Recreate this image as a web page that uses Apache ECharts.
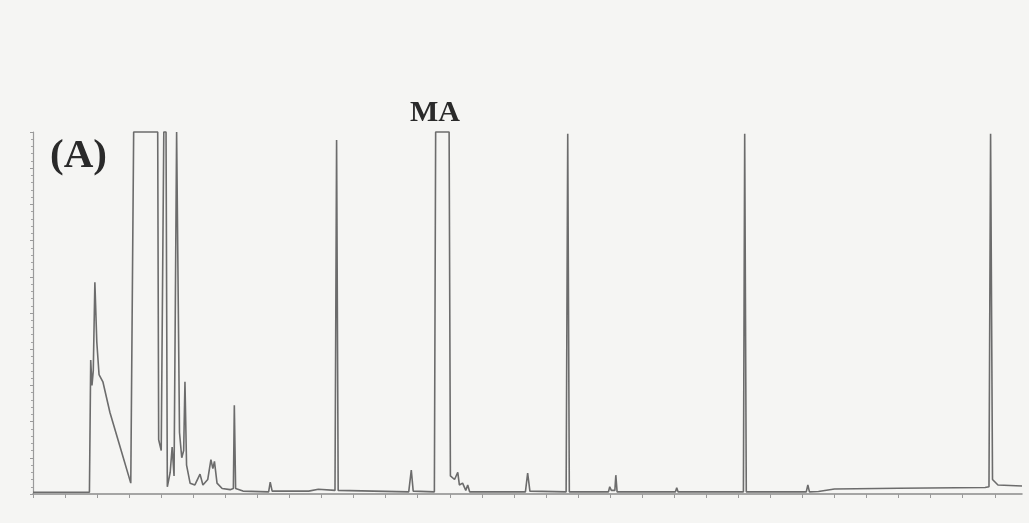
<!DOCTYPE html>
<html>
<head>
<meta charset="utf-8">
<script src="https://cdn.jsdelivr.net/npm/echarts@6/dist/echarts.min.js"></script>
<style>
  html, body { margin: 0; padding: 0; background: #f5f5f3; }
  #main { width: 1029px; height: 523px; }
</style>
</head>
<body>
<div id="main"></div>
<script>
// retention time (min) / relative response (%)
var times = [0.0, 1.76, 1.80, 1.84, 1.88, 1.93, 1.99, 2.06, 2.18, 2.40, 2.75, 3.05, 3.11, 3.14, 3.89, 3.92, 4.00, 4.08, 4.15, 4.19,
  4.28, 4.34, 4.40, 4.48, 4.53, 4.57, 4.64, 4.70, 4.74, 4.79, 4.90, 5.05, 5.21, 5.30, 5.45, 5.55, 5.61, 5.66, 5.74, 5.90,
  6.15, 6.25, 6.28, 6.32, 6.55, 7.35, 7.40, 7.46, 8.60, 8.90, 9.42, 9.47, 9.52, 11.72, 11.80, 11.86, 12.52, 12.56, 12.98, 13.02,
  13.15, 13.25, 13.30, 13.40, 13.50, 13.56, 13.62, 15.36, 15.43, 15.50, 16.63, 16.68, 16.73, 17.95, 17.99, 18.04, 18.15, 18.18, 18.22, 20.04,
  20.08, 20.12, 22.16, 22.20, 22.25, 24.12, 24.17, 24.22, 24.50, 25.00, 27.00, 29.70, 29.82, 29.87, 29.93, 30.10, 30.85];
var response = [0.5, 0.5, 37, 30, 34, 58.5, 42, 33, 31, 22.5, 12, 3, 3, 100, 100, 15, 12, 100, 100, 2,
  6, 13, 5, 100, 100, 17, 10, 12, 31, 8, 3, 2.5, 5.5, 2.5, 4, 9.5, 7, 9, 3, 1.5,
  1.2, 1.5, 24.5, 1.5, 0.8, 0.6, 3.3, 0.8, 0.8, 1.3, 1, 97.8, 1, 0.6, 6.6, 0.8, 0.6, 100, 100, 5,
  4, 6, 2.5, 3, 1, 2.5, 0.6, 0.6, 5.8, 0.8, 0.6, 99.5, 0.6, 0.6, 2, 1, 1, 5.2, 0.6, 0.6,
  1.7, 0.6, 0.6, 99.5, 0.6, 0.6, 2.5, 0.6, 0.7, 1.4, 1.6, 1.8, 2, 99.5, 4, 2.5, 2.2];
var xTicks = [0, 1, 2, 3, 4, 5, 6, 7, 8, 9, 10, 11, 12, 13, 14, 15, 16, 17, 18, 19, 20, 21, 22, 23, 24, 25, 26, 27, 28, 29, 30];

var trace = times.map(function (t, i) { return [t, response[i]]; });

var myChart = echarts.init(document.getElementById('main'));
myChart.setOption({
  backgroundColor: '#f5f5f3',
  animation: false,
  grid: { left: 33, right: 7, top: 132, bottom: 29 },
  xAxis: {
    type: 'value',
    min: 0,
    max: 30.85,
    axisLine: { lineStyle: { color: '#8a8a8a', width: 1.5 } },
    axisTick: { customValues: xTicks, length: 4, lineStyle: { color: '#9a9a9a' } },
    axisLabel: { show: false },
    splitLine: { show: false }
  },
  yAxis: {
    type: 'value',
    min: 0,
    max: 100,
    interval: 10,
    axisLine: { show: true, lineStyle: { color: '#9a9a9a', width: 1.2 } },
    axisTick: { show: true, length: 3, lineStyle: { color: '#9a9a9a' } },
    minorTick: { show: true, splitNumber: 5, length: 2, lineStyle: { color: '#a5a5a5' } },
    axisLabel: { show: false },
    splitLine: { show: false }
  },
  graphic: [
    { type: 'text', left: 50, top: 136, style: { text: '(A)', font: 'bold 41px "Liberation Serif"', fill: '#2a2a2a' } },
    { type: 'text', left: 410, top: 98, style: { text: 'MA', font: 'bold 30px "Liberation Serif"', fill: '#2a2a2a' } }
  ],
  series: [{
    type: 'line',
    data: trace,
    symbol: 'none',
    clip: false,
    lineStyle: { color: '#6c6c6c', width: 1.6 }
  }]
});
</script>
</body>
</html>
